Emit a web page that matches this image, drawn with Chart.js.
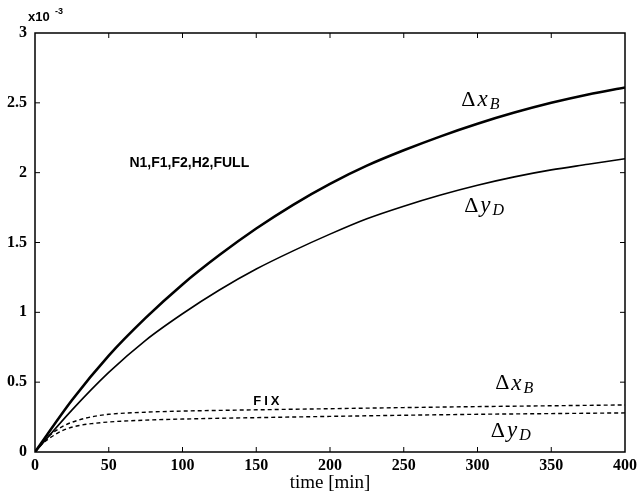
<!DOCTYPE html>
<html><head><meta charset="utf-8">
<script src="https://cdn.jsdelivr.net/npm/chart.js@4/dist/chart.umd.min.js"></script>
<style>html,body{margin:0;padding:0;background:#fff}#wrap{width:641px;height:497px}</style>
</head><body><div id="wrap"><canvas id="c" width="641" height="497"></canvas></div>
<script>
// time grid (min) for the full-model curves
const timeFull = [0,25,50,75,100,125,150,175,200,225,250,275,300,325,350,375,400];
// N1,F1,F2,H2,FULL : Δx_B and Δy_D (x10^-3)
const dxBFull = [0,0.37,0.69,0.96,1.20,1.41,1.60,1.77,1.92,2.05,2.16,2.26,2.35,2.43,2.50,2.56,2.61];
const dyDFull = [0,0.30,0.57,0.80,0.99,1.16,1.31,1.44,1.56,1.67,1.76,1.84,1.91,1.97,2.02,2.06,2.10];
// time grid for FIX curves
const timeFix = [0,5,10,20,30,40,50,75,100,150,200,250,300,350,400];
const dxBFix = [0,0.07,0.12,0.19,0.23,0.255,0.27,0.285,0.293,0.302,0.31,0.318,0.325,0.331,0.337];
const dyDFix = [0,0.06,0.10,0.16,0.19,0.205,0.215,0.228,0.236,0.246,0.255,0.263,0.27,0.275,0.28];
const xTicks = [0,50,100,150,200,250,300,350,400];
const yTicks = [0,0.5,1,1.5,2,2.5,3];

const pts = (t, v) => t.map((x, i) => ({x, y: v[i]}));

const deco = {
  id: 'deco',
  afterDraw(chart) {
    const {ctx, chartArea: a, scales: {x, y}} = chart;
    ctx.save();
    ctx.strokeStyle = '#000';
    ctx.lineWidth = 1.5;
    ctx.strokeRect(a.left, a.top, a.right - a.left, a.bottom - a.top);
    ctx.lineWidth = 1;
    const L = 5;
    xTicks.slice(1, -1).forEach(v => {
      const p = x.getPixelForValue(v);
      ctx.beginPath(); ctx.moveTo(p, a.bottom); ctx.lineTo(p, a.bottom - L);
      ctx.moveTo(p, a.top); ctx.lineTo(p, a.top + L); ctx.stroke();
    });
    yTicks.slice(1, -1).forEach(v => {
      const p = y.getPixelForValue(v);
      ctx.beginPath(); ctx.moveTo(a.left, p); ctx.lineTo(a.left + L, p);
      ctx.moveTo(a.right, p); ctx.lineTo(a.right - L, p); ctx.stroke();
    });
    ctx.fillStyle = '#000';
    const delta = (tx, ty, v, sub) => {
      let px = x.getPixelForValue(tx), py = y.getPixelForValue(ty);
      ctx.textAlign = 'left'; ctx.textBaseline = 'middle';
      ctx.font = '22px "Liberation Serif"';
      ctx.fillText('Δ', px, py); px += ctx.measureText('Δ').width + 2;
      ctx.font = 'italic 23px "Liberation Serif"';
      ctx.fillText(v, px, py); px += ctx.measureText(v).width + 2;
      ctx.font = 'italic 16px "Liberation Serif"';
      ctx.fillText(sub, px, py + 5);
    };
    delta(289, 2.52, 'x', 'B');
    delta(291, 1.76, 'y', 'D');
    delta(312, 0.49, 'x', 'B');
    delta(309, 0.15, 'y', 'D');
    ctx.textBaseline = 'middle'; ctx.textAlign = 'left';
    ctx.font = 'bold 14px "Liberation Sans"';
    ctx.fillText('N1,F1,F2,H2,FULL', x.getPixelForValue(64), y.getPixelForValue(2.07));
    ctx.font = 'bold 13px "Liberation Sans"';
    ctx.letterSpacing = '3px';
    ctx.fillText('FIX', x.getPixelForValue(148), y.getPixelForValue(0.365));
    ctx.letterSpacing = '0px';
    // exponent label
    ctx.font = 'bold 13px "Liberation Sans"';
    ctx.fillText('x10', 28, 17);
    ctx.font = 'bold 9px "Liberation Sans"';
    ctx.fillText('-3', 55, 12);
    // axis title
    ctx.textAlign = 'center';
    ctx.font = '19px "Liberation Serif"';
    ctx.fillText('time [min]', (a.left + a.right) / 2, 483);
    ctx.restore();
  }
};

new Chart(document.getElementById('c'), {
  type: 'line',
  data: {
    datasets: [
      {label: 'Δx_B full', data: pts(timeFull, dxBFull), borderColor: '#000', borderWidth: 2.6, pointRadius: 0, cubicInterpolationMode: 'monotone'},
      {label: 'Δy_D full', data: pts(timeFull, dyDFull), borderColor: '#000', borderWidth: 1.6, pointRadius: 0, cubicInterpolationMode: 'monotone'},
      {label: 'Δx_B FIX', data: pts(timeFix, dxBFix), borderColor: '#000', borderWidth: 1.4, borderDash: [4, 3], pointRadius: 0, cubicInterpolationMode: 'monotone'},
      {label: 'Δy_D FIX', data: pts(timeFix, dyDFix), borderColor: '#000', borderWidth: 1.4, borderDash: [4, 3], pointRadius: 0, cubicInterpolationMode: 'monotone'}
    ]
  },
  options: {
    responsive: false, animation: false,
    layout: {padding: {top: 33, right: 13, left: 0, bottom: 0}},
    plugins: {legend: {display: false}, tooltip: {enabled: false}},
    scales: {
      x: {
        type: 'linear', min: 0, max: 400,
        afterFit: s => { s.height = 45; },
        afterBuildTicks: s => { s.ticks = xTicks.map(v => ({value: v})); },
        grid: {display: false, drawTicks: false}, border: {display: false},
        ticks: {color: '#000', padding: 4, maxRotation: 0, callback: v => String(v), font: {family: 'Liberation Serif', size: 16, weight: 'bold'}}
      },
      y: {
        type: 'linear', min: 0, max: 3,
        afterFit: s => { s.width = 35; },
        afterBuildTicks: s => { s.ticks = yTicks.map(v => ({value: v})); },
        grid: {display: false, drawTicks: false}, border: {display: false},
        ticks: {color: '#000', padding: 8, callback: v => String(v), font: {family: 'Liberation Serif', size: 16, weight: 'bold'}}
      }
    }
  },
  plugins: [deco]
});
</script></body></html>
